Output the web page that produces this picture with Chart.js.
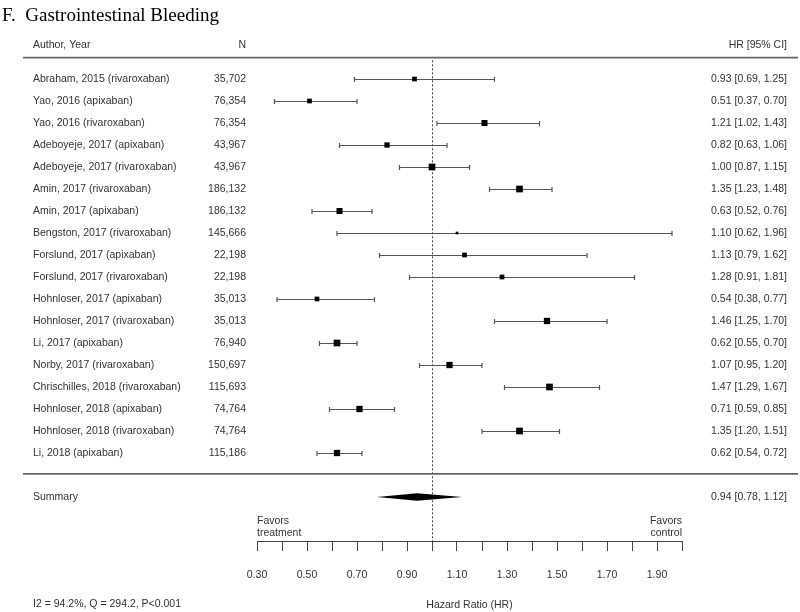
<!DOCTYPE html>
<html lang="en">
<head>
  <meta charset="UTF-8">
  <title>F. Gastrointestinal Bleeding</title>
  <script src="https://cdn.jsdelivr.net/npm/chart.js"></script>
  <style>
    body {
      margin: 0;
      background: #fff;
    }
    #wrap {
      width: 800px;
      height: 612px;
    }
  </style>
</head>
<body>
  <div id="wrap"><canvas id="forest" width="800" height="612"></canvas></div>

  <script>
    // data
    const studies = [
      'Abraham, 2015 (rivaroxaban)', 'Yao, 2016 (apixaban)', 'Yao, 2016 (rivaroxaban)',
      'Adeboyeje, 2017 (apixaban)', 'Adeboyeje, 2017 (rivaroxaban)', 'Amin, 2017 (rivaroxaban)',
      'Amin, 2017 (apixaban)', 'Bengston, 2017 (rivaroxaban)', 'Forslund, 2017 (apixaban)',
      'Forslund, 2017 (rivaroxaban)', 'Hohnloser, 2017 (apixaban)', 'Hohnloser, 2017 (rivaroxaban)',
      'Li, 2017 (apixaban)', 'Norby, 2017 (rivaroxaban)', 'Chrischilles, 2018 (rivaroxaban)',
      'Hohnloser, 2018 (apixaban)', 'Hohnloser, 2018 (rivaroxaban)', 'Li, 2018 (apixaban)'
    ];
    const nPatients = [35702, 76354, 76354, 43967, 43967, 186132, 186132, 145666, 22198,
                       22198, 35013, 35013, 76940, 150697, 115693, 74764, 74764, 115186];
    const hr     = [0.93, 0.51, 1.21, 0.82, 1.00, 1.35, 0.63, 1.10, 1.13, 1.28, 0.54, 1.46, 0.62, 1.07, 1.47, 0.71, 1.35, 0.62];
    const ciLow  = [0.69, 0.37, 1.02, 0.63, 0.87, 1.23, 0.52, 0.62, 0.79, 0.91, 0.38, 1.25, 0.55, 0.95, 1.29, 0.59, 1.20, 0.54];
    const ciHigh = [1.25, 0.70, 1.43, 1.06, 1.15, 1.48, 0.76, 1.96, 1.62, 1.81, 0.77, 1.70, 0.70, 1.20, 1.67, 0.85, 1.51, 0.72];
    const summaryHr = [0.94, 0.78, 1.12];
    const tickLabels = ['0.30', '0.50', '0.70', '0.90', '1.10', '1.30', '1.50', '1.70', '1.90'];
    const heterogeneity = 'I2 = 94.2%, Q = 294.2, P<0.001';

    // box sides in px (study weight)
    const boxSide = [4.7, 4.7, 6, 5.3, 6.7, 6.7, 6, 2.7, 4.7, 4.7, 4.7, 6.3, 6.7, 6.3, 6.7, 6.3, 6.7, 6.3];

    const SANS = '"Liberation Sans", Arial, Helvetica, sans-serif';
    const TEXT = '#333';
    const summaryRow = studies.length + 1;

    const fmt = v => v.toFixed(2);
    const ciText = (m, l, h) => `${fmt(m)} [${fmt(l)}, ${fmt(h)}]`;

    const forestPlugin = {
      id: 'forest',
      beforeDatasetsDraw(chart) {
        const { ctx, chartArea, scales: { x, y } } = chart;
        ctx.save();

        // line of no effect
        ctx.strokeStyle = '#444';
        ctx.lineWidth = 1;
        ctx.setLineDash([2, 2]);
        ctx.beginPath();
        ctx.moveTo(x.getPixelForValue(1) + 0.5, y.getPixelForValue(-0.85));
        ctx.lineTo(x.getPixelForValue(1) + 0.5, chartArea.bottom);
        ctx.stroke();
        ctx.setLineDash([]);

        // confidence intervals
        ctx.strokeStyle = '#555';
        ctx.lineWidth = 1.2;
        hr.forEach((m, i) => {
          const py = Math.round(y.getPixelForValue(i)) + 0.5;
          const x1 = x.getPixelForValue(ciLow[i]);
          const x2 = x.getPixelForValue(ciHigh[i]);
          ctx.beginPath();
          ctx.moveTo(x1, py); ctx.lineTo(x2, py);
          ctx.moveTo(x1, py - 2.5); ctx.lineTo(x1, py + 2.5);
          ctx.moveTo(x2, py - 2.5); ctx.lineTo(x2, py + 2.5);
          ctx.stroke();
        });

        // summary diamond
        const sy = y.getPixelForValue(summaryRow);
        ctx.fillStyle = '#000';
        ctx.beginPath();
        ctx.moveTo(x.getPixelForValue(summaryHr[1]), sy);
        ctx.lineTo(x.getPixelForValue(summaryHr[0]), sy - 3.7);
        ctx.lineTo(x.getPixelForValue(summaryHr[2]), sy);
        ctx.lineTo(x.getPixelForValue(summaryHr[0]), sy + 3.7);
        ctx.closePath();
        ctx.fill();
        ctx.restore();
      },
      afterDraw(chart) {
        const { ctx, chartArea, scales: { y } } = chart;
        ctx.save();

        ctx.fillStyle = '#000';
        ctx.font = '19px "Liberation Serif", "Times New Roman", serif';
        ctx.textBaseline = 'middle';
        ctx.textAlign = 'left';
        ctx.fillText('F.  Gastrointestinal Bleeding', 2, 16);

        // rules
        ctx.strokeStyle = '#666';
        ctx.lineWidth = 1.6;
        [-0.97, studies.length - 0.05].forEach(r => {
          const py = y.getPixelForValue(r);
          ctx.beginPath();
          ctx.moveTo(23, py);
          ctx.lineTo(798, py);
          ctx.stroke();
        });

        ctx.fillStyle = TEXT;
        ctx.font = '10.5px ' + SANS;
        const hy = y.getPixelForValue(-1.55);
        ctx.textAlign = 'left';
        ctx.fillText('Author, Year', 33, hy);
        ctx.textAlign = 'right';
        ctx.fillText('N', 246, hy);
        ctx.fillText('HR [95% CI]', 787, hy);

        studies.forEach((s, i) => {
          const py = y.getPixelForValue(i);
          ctx.textAlign = 'left';
          ctx.fillText(s, 33, py);
          ctx.textAlign = 'right';
          ctx.fillText(nPatients[i].toLocaleString('en-US'), 246, py);
          ctx.fillText(ciText(hr[i], ciLow[i], ciHigh[i]), 787, py);
        });

        const sy = y.getPixelForValue(summaryRow);
        ctx.textAlign = 'left';
        ctx.fillText('Summary', 33, sy);
        ctx.textAlign = 'right';
        ctx.fillText(ciText(...summaryHr), 787, sy);

        // favours labels
        ctx.textAlign = 'left';
        ctx.fillText('Favors', chartArea.left, chartArea.bottom - 20);
        ctx.fillText('treatment', chartArea.left, chartArea.bottom - 8);
        ctx.textAlign = 'right';
        ctx.fillText('Favors', chartArea.right, chartArea.bottom - 20);
        ctx.fillText('control', chartArea.right, chartArea.bottom - 8);

        ctx.textAlign = 'left';
        ctx.fillText(heterogeneity, 33, 604);
        ctx.restore();
      }
    };

    new Chart(document.getElementById('forest'), {
      type: 'scatter',
      data: {
        datasets: [{
          data: hr.map((v, i) => ({ x: v, y: i })),
          pointStyle: 'rect',
          pointRadius: boxSide.map(s => s / Math.SQRT2),
          backgroundColor: '#000',
          borderWidth: 0
        }]
      },
      options: {
        responsive: false,
        animation: false,
        events: [],
        layout: { padding: { left: 257, right: 118, top: 57, bottom: 0 } },
        plugins: {
          legend: { display: false },
          tooltip: { enabled: false }
        },
        scales: {
          x: {
            type: 'linear',
            position: 'bottom',
            min: 0.3,
            max: 2.0,
            afterFit: s => { s.height = 71; },
            border: { display: true, color: '#444', width: 1 },
            grid: { drawOnChartArea: false, drawTicks: true, tickLength: 10, color: '#444', lineWidth: 1 },
            ticks: {
              stepSize: 0.1,
              autoSkip: false,
              maxRotation: 0,
              padding: 18,
              color: TEXT,
              font: { family: SANS, size: 10.5 },
              callback: v => tickLabels.find(t => Math.abs(parseFloat(t) - v) < 1e-6) || ''
            },
            title: {
              display: true,
              text: 'Hazard Ratio (HR)',
              color: TEXT,
              font: { family: SANS, size: 10.5 },
              padding: { top: 0, bottom: 1 }
            }
          },
          y: {
            type: 'linear',
            min: -1,
            max: 21,
            reverse: true,
            display: false
          }
        }
      },
      plugins: [forestPlugin]
    });
  </script>
</body>
</html>
